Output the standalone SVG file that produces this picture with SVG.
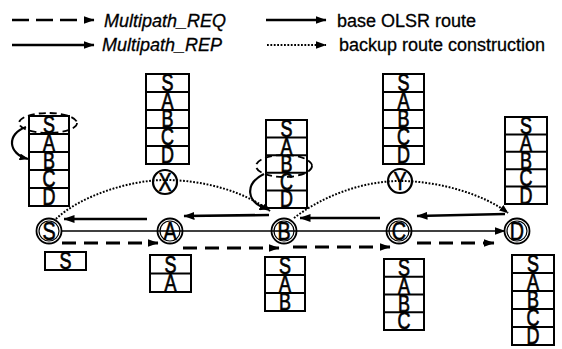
<svg xmlns="http://www.w3.org/2000/svg" width="562" height="349" viewBox="0 0 562 349">
  <style>
    .bg{fill:#fff}
    .tbl{fill:none;stroke:#000;stroke-width:2}
    .lt{font-family:"Liberation Sans",Arial,sans-serif;font-size:23px;text-anchor:middle;fill:#000;stroke:#000;stroke-width:.7;transform-box:fill-box;transform-origin:center;transform:scaleX(.78)}
    .nl{font-family:"Liberation Sans",Arial,sans-serif;font-size:26px;text-anchor:middle;fill:#000;stroke:#000;stroke-width:.6;transform-box:fill-box;transform-origin:center;transform:scaleX(.76)}
    .ring-o{fill:none;stroke:#000;stroke-width:1.8}
    .ring-i{fill:none;stroke:#000;stroke-width:1.2}
    .ring{fill:none;stroke:#000;stroke-width:2.2}
    .leg{font-family:"Liberation Sans",Arial,sans-serif;font-size:18px;fill:#000;stroke:#000;stroke-width:.3}
    .it{font-style:italic}
    .base{fill:none;stroke:#000;stroke-width:1.7}
    .rep{fill:none;stroke:#000;stroke-width:2.6}
    .req{fill:none;stroke:#000;stroke-width:3;stroke-dasharray:14 8}
    .lreq{fill:none;stroke:#000;stroke-width:2.4;stroke-dasharray:17 7}
    .dot{fill:none;stroke:#000;stroke-width:2;stroke-dasharray:1.8 1.6}
    .oval{fill:none;stroke:#000;stroke-width:1.8;stroke-dasharray:7 4}
    .hook{fill:none;stroke:#000;stroke-width:2.2}
  </style>
  <defs>
    <marker id="ah" viewBox="0 0 11 8" refX="10.5" refY="4" markerWidth="11" markerHeight="8" markerUnits="userSpaceOnUse" orient="auto">
      <path d="M0,0 L11,4 L0,8 z" fill="#000"/>
    </marker>
    <marker id="ahs" viewBox="0 0 9 7" refX="8.5" refY="3.5" markerWidth="9" markerHeight="7" markerUnits="userSpaceOnUse" orient="auto">
      <path d="M0,0 L9,3.5 L0,7 z" fill="#000"/>
    </marker>
  </defs>
  <rect class="bg" x="0" y="0" width="562" height="349"/>

  <!-- legend -->
  <g id="legend">
    <path class="lreq" d="M12,20 L94,20" marker-end="url(#ah)"/>
    <text class="leg it" x="104" y="27">Multipath_REQ</text>
    <path class="rep" d="M12,45 L94,45" marker-end="url(#ah)"/>
    <text class="leg it" x="102" y="51">Multipath_REP</text>
    <path class="rep" d="M266,20 L326,20" marker-end="url(#ah)"/>
    <text class="leg" x="337" y="27">base OLSR route</text>
    <path class="dot" d="M267,45 L326,45" marker-end="url(#ah)"/>
    <text class="leg" x="339" y="51">backup route construction</text>
  </g>

  <!-- connectors -->
  <g id="connectors">
    <!-- base OLSR route -->
    <path class="base" d="M62,231 L505,231" marker-end="url(#ah)"/>
    <!-- Multipath_REP -->
    <path class="rep" d="M147,219 L64,219" marker-end="url(#ah)"/>
    <path class="rep" d="M269,215 L184,216" marker-end="url(#ah)"/>
    <path class="rep" d="M380,218 L300,218" marker-end="url(#ah)"/>
    <path class="rep" d="M505,214 L417,216" marker-end="url(#ah)"/>
    <!-- Multipath_REQ -->
    <path class="req" d="M62,243 L158,243" marker-end="url(#ah)"/>
    <path class="req" d="M183,248 L279,248" marker-end="url(#ah)"/>
    <path class="req" d="M293,247 L390,247" marker-end="url(#ah)"/>
    <path class="req" d="M417,243 L494,243" marker-end="url(#ah)"/>
    <!-- backup routes -->
    <path class="dot" d="M56,219 C80,196 130,180 165,180 C205,180 245,192 270,211" marker-end="url(#ahs)"/>
    <path class="dot" d="M294,218 C320,198 360,181 400,181 C440,181 485,195 508,213" marker-end="url(#ahs)"/>
    <!-- loop detection marks -->
    <ellipse class="oval" cx="48" cy="123" rx="29" ry="10"/>
    <path class="hook" d="M26,127 C6,134 8,154 28,159" marker-end="url(#ahs)"/>
    <ellipse class="oval" cx="284" cy="166" rx="28" ry="11"/>
    <path class="hook" d="M264,174 C244,184 246,203 268,209" marker-end="url(#ahs)"/>
  </g>

  <!-- route tables above -->
  <g id="table-S-top">
    <rect class="tbl" x="29" y="116" width="40" height="90"/>
    <path class="tbl" d="M29,134H69M29,152H69M29,170H69M29,188H69"/>
    <text class="lt" x="49" y="133.5">S</text><text class="lt" x="49" y="151.5">A</text><text class="lt" x="49" y="169.5">B</text><text class="lt" x="49" y="187.5">C</text><text class="lt" x="49" y="205.5">D</text>
  </g>
  <g id="table-X">
    <rect class="tbl" x="146" y="74" width="43" height="90"/>
    <path class="tbl" d="M146,92H189M146,110H189M146,128H189M146,146H189"/>
    <text class="lt" x="167.5" y="91.5">S</text><text class="lt" x="167.5" y="109.5">A</text><text class="lt" x="167.5" y="127.5">B</text><text class="lt" x="167.5" y="145.5">C</text><text class="lt" x="167.5" y="163.5">D</text>
  </g>
  <g id="table-B-top">
    <rect class="tbl" x="266" y="120" width="41" height="88"/>
    <path class="tbl" d="M266,137.6H307M266,155.2H307M266,172.8H307M266,190.4H307"/>
    <text class="lt" x="286.5" y="137">S</text><text class="lt" x="286.5" y="154.6">A</text><text class="lt" x="286.5" y="172.2">B</text><text class="lt" x="286.5" y="189.8">C</text><text class="lt" x="286.5" y="207.4">D</text>
  </g>
  <g id="table-Y">
    <rect class="tbl" x="383" y="74" width="41" height="90"/>
    <path class="tbl" d="M383,92H424M383,110H424M383,128H424M383,146H424"/>
    <text class="lt" x="403.5" y="91.5">S</text><text class="lt" x="403.5" y="109.5">A</text><text class="lt" x="403.5" y="127.5">B</text><text class="lt" x="403.5" y="145.5">C</text><text class="lt" x="403.5" y="163.5">D</text>
  </g>
  <g id="table-D-top">
    <rect class="tbl" x="505" y="117" width="42" height="87"/>
    <path class="tbl" d="M505,134.4H547M505,151.8H547M505,169.2H547M505,186.6H547"/>
    <text class="lt" x="526" y="134">S</text><text class="lt" x="526" y="151.4">A</text><text class="lt" x="526" y="168.8">B</text><text class="lt" x="526" y="186.2">C</text><text class="lt" x="526" y="203.6">D</text>
  </g>

  <!-- route tables below -->
  <g id="table-S-bottom">
    <rect class="tbl" x="45" y="252" width="41" height="18"/>
    <text class="lt" x="65.5" y="269.5">S</text>
  </g>
  <g id="table-A-bottom">
    <rect class="tbl" x="150" y="255" width="41" height="37"/>
    <path class="tbl" d="M150,273.5H191"/>
    <text class="lt" x="170.5" y="273">S</text><text class="lt" x="170.5" y="291.5">A</text>
  </g>
  <g id="table-B-bottom">
    <rect class="tbl" x="265" y="257" width="40" height="54"/>
    <path class="tbl" d="M265,275H305M265,293H305"/>
    <text class="lt" x="285" y="274.5">S</text><text class="lt" x="285" y="292.5">A</text><text class="lt" x="285" y="310.5">B</text>
  </g>
  <g id="table-C-bottom">
    <rect class="tbl" x="384" y="259" width="40" height="71"/>
    <path class="tbl" d="M384,276.75H424M384,294.5H424M384,312.25H424"/>
    <text class="lt" x="404" y="276.2">S</text><text class="lt" x="404" y="294">A</text><text class="lt" x="404" y="311.7">B</text><text class="lt" x="404" y="329.5">C</text>
  </g>
  <g id="table-D-bottom">
    <rect class="tbl" x="512" y="255" width="42" height="90"/>
    <path class="tbl" d="M512,273H554M512,291H554M512,309H554M512,327H554"/>
    <text class="lt" x="533" y="272.5">S</text><text class="lt" x="533" y="290.5">A</text><text class="lt" x="533" y="308.5">B</text><text class="lt" x="533" y="326.5">C</text><text class="lt" x="533" y="344.5">D</text>
  </g>

  <!-- nodes -->
  <g id="node-S">
    <circle class="ring-o" cx="49" cy="231" r="12.5"/><circle class="ring-i" cx="49" cy="231" r="10"/>
    <text class="nl" x="49" y="240">S</text>
  </g>
  <g id="node-A">
    <circle class="ring-o" cx="170" cy="231" r="12.5"/><circle class="ring-i" cx="170" cy="231" r="10"/>
    <text class="nl" x="170" y="240">A</text>
  </g>
  <g id="node-B">
    <circle class="ring-o" cx="284" cy="231" r="12.5"/><circle class="ring-i" cx="284" cy="231" r="10"/>
    <text class="nl" x="284" y="240">B</text>
  </g>
  <g id="node-C">
    <circle class="ring-o" cx="399" cy="231" r="12.5"/><circle class="ring-i" cx="399" cy="231" r="10"/>
    <text class="nl" x="399" y="240">C</text>
  </g>
  <g id="node-D">
    <circle class="ring-o" cx="517" cy="231" r="12.5"/><circle class="ring-i" cx="517" cy="231" r="10"/>
    <text class="nl" x="517" y="240">D</text>
  </g>
  <g id="node-X">
    <circle class="ring" cx="165" cy="182" r="12"/>
    <text class="nl" x="165" y="191">X</text>
  </g>
  <g id="node-Y">
    <circle class="ring" cx="400" cy="181" r="12"/>
    <text class="nl" x="400" y="190">Y</text>
  </g>
</svg>
